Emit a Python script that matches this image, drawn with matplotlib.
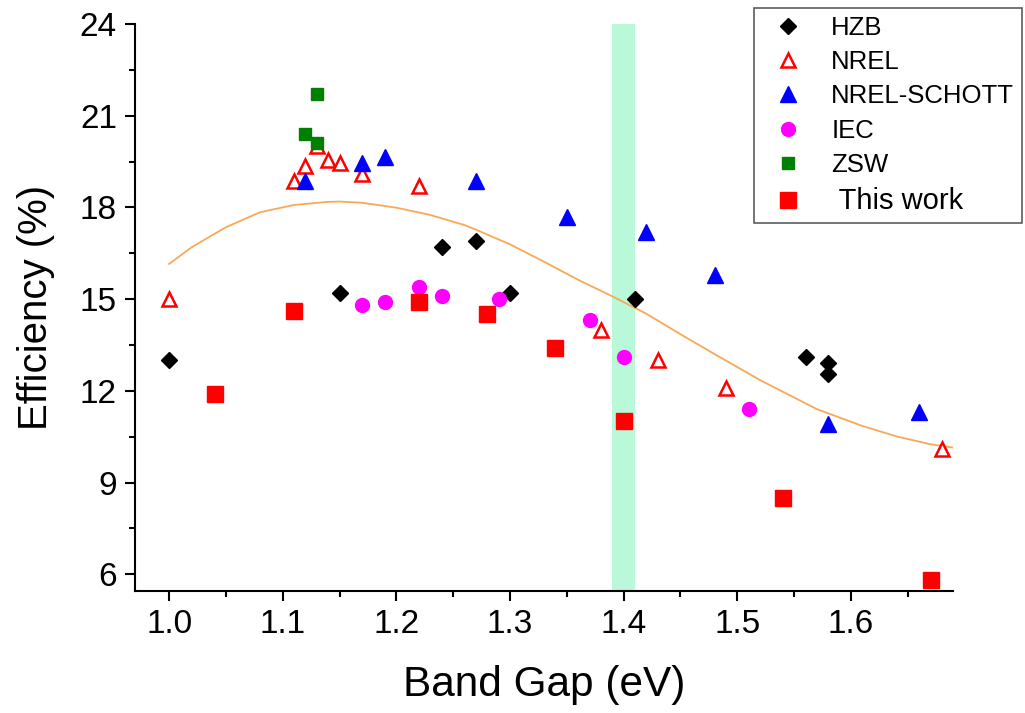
import matplotlib
matplotlib.use("Agg")
import matplotlib.pyplot as plt
from matplotlib.ticker import MultipleLocator

plt.rcParams["font.family"] = ["Liberation Sans", "DejaVu Sans"]

# efficiency records vs band gap
hzb_x = [1.00, 1.15, 1.24, 1.27, 1.30, 1.41, 1.56, 1.58, 1.58]
hzb_y = [13.0, 15.2, 16.7, 16.9, 15.2, 15.0, 13.1, 12.9, 12.55]

nrel_x = [1.00, 1.11, 1.12, 1.13, 1.14, 1.15, 1.17, 1.22, 1.38, 1.43, 1.49, 1.68]
nrel_y = [15.0, 18.85, 19.35, 20.0, 19.55, 19.45, 19.1, 18.7, 14.0, 13.0, 12.1, 10.1]

schott_x = [1.12, 1.17, 1.19, 1.27, 1.35, 1.42, 1.48, 1.58, 1.66]
schott_y = [18.85, 19.45, 19.65, 18.85, 17.7, 17.2, 15.8, 10.9, 11.3]

iec_x = [1.17, 1.19, 1.22, 1.24, 1.29, 1.37, 1.40, 1.51]
iec_y = [14.8, 14.9, 15.4, 15.1, 15.0, 14.3, 13.1, 11.4]

zsw_x = [1.12, 1.13, 1.13]
zsw_y = [20.4, 21.7, 20.1]

work_x = [1.04, 1.11, 1.22, 1.28, 1.34, 1.40, 1.54, 1.67]
work_y = [11.9, 14.6, 14.9, 14.5, 13.4, 11.0, 8.5, 5.8]

# trend curve
fit_x = [1.00, 1.02, 1.05, 1.08, 1.11, 1.14, 1.15, 1.17, 1.20, 1.23, 1.26,
         1.27, 1.30, 1.33, 1.36, 1.39, 1.42, 1.45, 1.48, 1.52, 1.57, 1.61,
         1.64, 1.67, 1.69]
fit_y = [16.15, 16.70, 17.35, 17.84, 18.08, 18.18, 18.19, 18.15, 17.99,
         17.75, 17.42, 17.27, 16.79, 16.22, 15.63, 15.09, 14.52, 13.85,
         13.2, 12.35, 11.4, 10.85, 10.51, 10.25, 10.14]

band = (1.39, 1.41)

fig = plt.figure(figsize=(10.25, 7.13), dpi=100)
ax = fig.add_axes([0.1317, 0.1715, 0.7983, 0.7949])

ax.axvspan(*band, color="#b9f9da", lw=0, zorder=0)
ax.plot(fit_x, fit_y, "-", color="#f7a957", lw=1.3, zorder=1)

ax.plot(hzb_x, hzb_y, "D", color="black", ms=8.5, ls="none", label="HZB", zorder=3)
ax.plot(nrel_x, nrel_y, "^", mfc="white", mec="red", mew=1.8, ms=10,
        ls="none", label="NREL", zorder=3)
ax.plot(schott_x, schott_y, "^", color="blue", ms=11, ls="none",
        label="NREL-SCHOTT", zorder=3)
ax.plot(iec_x, iec_y, "o", color="magenta", ms=10, ls="none", label="IEC", zorder=3)
ax.plot(zsw_x, zsw_y, "s", color="green", ms=9, ls="none", label="ZSW", zorder=3)
ax.plot(work_x, work_y, "s", color="red", ms=12, ls="none", label=" This work",
        zorder=3)

ax.set_xlim(0.97, 1.69)
ax.set_ylim(5.46, 24)
ax.xaxis.set_major_locator(MultipleLocator(0.1))
ax.xaxis.set_minor_locator(MultipleLocator(0.05))
ax.yaxis.set_major_locator(MultipleLocator(3))
ax.yaxis.set_minor_locator(MultipleLocator(1.5))
ax.xaxis.set_major_formatter(plt.FormatStrFormatter("%.1f"))

for s in ("top", "right"):
    ax.spines[s].set_visible(False)
for s in ("left", "bottom"):
    ax.spines[s].set_linewidth(1.5)
ax.tick_params(which="major", direction="out", length=7, width=1.5,
               labelsize=24, pad=6)
ax.tick_params(which="minor", direction="out", length=4, width=1.5)

ax.set_xlabel("Band Gap (eV)", fontsize=30.5, labelpad=18)
ax.set_ylabel("Efficiency (%)", fontsize=29, labelpad=18)

leg = ax.legend(loc="upper right", bbox_to_anchor=(1022 / 1025, 1 - 8 / 713),
                bbox_transform=fig.transFigure, borderaxespad=0,
                fontsize=18.5, frameon=True, fancybox=False, handletextpad=0.7,
                labelspacing=0.4, borderpad=0.3)
leg.get_frame().set_edgecolor("#333333")
leg.get_frame().set_linewidth(1.2)
leg.get_texts()[-1].set_fontsize(21)

fig.savefig("out.png", dpi=100)
